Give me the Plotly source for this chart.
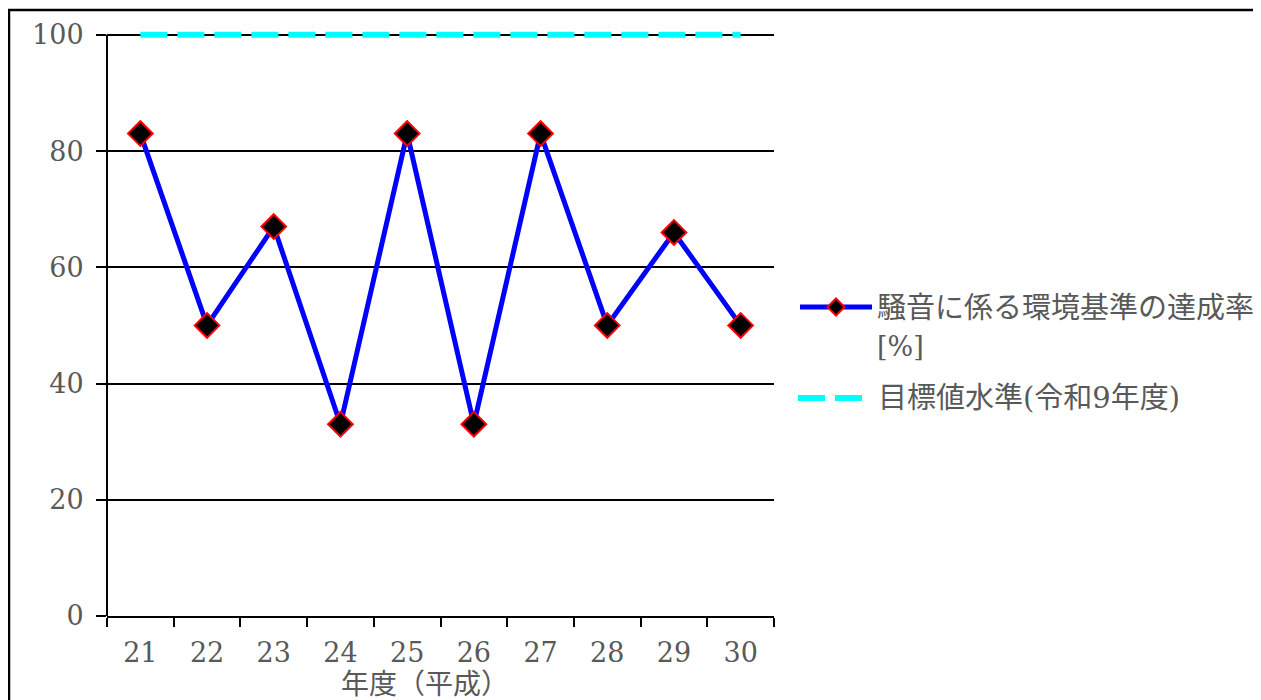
import plotly.graph_objects as go

years = ["21", "22", "23", "24", "25", "26", "27", "28", "29", "30"]
rate = [83, 50, 67, 33, 83, 33, 83, 50, 66, 50]
target = [100] * len(years)
y_ticks = [0, 20, 40, 60, 80, 100]
name_rate = "騒音に係る環境基準の達成率"
name_rate2 = "[%]"
name_target = "目標値水準(令和9年度)"
x_title = "年度（平成）"

# the page body adds an 8px margin; figure coordinates are page - 8
OFF = 8
W, H = 1261 - OFF, 700 - OFF
L, R, T, B = 107 - OFF, 774 - OFF, 29 - OFF, 616 - OFF
GREY = "#595959"
FONT = "DejaVu Serif, Noto Sans CJK JP, serif"


def px(x):
    # x given in page pixels
    return (x - OFF - L) / (R - L)


def py(y):
    # y given in page pixels
    return (B - (y - OFF)) / (B - T)


fig = go.Figure()
fig.add_trace(go.Scatter(
    x=years, y=target, mode="lines", showlegend=False,
    line=dict(color="#00FFFF", width=6, dash="27px,10px"),
))
fig.add_trace(go.Scatter(
    x=years, y=rate, mode="lines+markers", showlegend=False,
    line=dict(color="#0000FF", width=5),
    marker=dict(symbol="diamond", size=19, color="black",
                line=dict(color="#FF0000", width=2)),
))

shapes = [
    # y axis line
    dict(type="line", xref="paper", yref="y", x0=0, x1=0, y0=0, y1=100,
         line=dict(color="black", width=2)),
    # outer frame (top and left edges visible)
    dict(type="line", xref="paper", yref="paper", x0=px(8), x1=px(1300),
         y0=py(10), y1=py(10), line=dict(color="black", width=2.5)),
    dict(type="line", xref="paper", yref="paper", x0=px(9), x1=px(9),
         y0=py(9), y1=py(760), line=dict(color="black", width=2.5)),
    # legend symbols
    dict(type="line", xref="paper", yref="paper", x0=px(800), x1=px(872),
         y0=py(307), y1=py(307), line=dict(color="#0000FF", width=5)),
    dict(type="line", xref="paper", yref="paper", x0=px(798), x1=px(825),
         y0=py(398), y1=py(398), line=dict(color="#00FFFF", width=6)),
    dict(type="line", xref="paper", yref="paper", x0=px(835), x1=px(862),
         y0=py(398), y1=py(398), line=dict(color="#00FFFF", width=6)),
    dict(type="path", xref="paper", yref="paper",
         path="M {},{} L {},{} L {},{} L {},{} Z".format(
             px(836 - 8.5), py(307), px(836), py(307 - 8.5),
             px(836 + 8.5), py(307), px(836), py(307 + 8.5)),
         fillcolor="black", line=dict(color="#FF0000", width=2)),
]

annotations = [
    dict(text=name_rate, xref="paper", yref="paper", x=px(875), y=py(308),
         xanchor="left", yanchor="middle", showarrow=False,
         font=dict(size=29, color=GREY, family=FONT)),
    dict(text=name_rate2, xref="paper", yref="paper", x=px(875), y=py(346),
         xanchor="left", yanchor="middle", showarrow=False,
         font=dict(size=27, color=GREY, family=FONT)),
    dict(text=name_target, xref="paper", yref="paper", x=px(876), y=py(398),
         xanchor="left", yanchor="middle", showarrow=False,
         font=dict(size=29, color=GREY, family=FONT)),
    dict(text=x_title, xref="paper", yref="paper", x=px(425), y=py(684),
         xanchor="center", yanchor="middle", showarrow=False,
         font=dict(size=28, color=GREY, family=FONT)),
]

fig.update_layout(
    width=W, height=H,
    margin=dict(l=L, r=W - R, t=T, b=H - B, pad=0),
    paper_bgcolor="white", plot_bgcolor="white",
    font=dict(family=FONT, size=27, color=GREY),
    showlegend=False,
    shapes=shapes, annotations=annotations,
    xaxis=dict(
        type="category", range=[-0.5, 9.5], showgrid=False,
        showline=True, linecolor="black", linewidth=2,
        ticks="outside", tickson="boundaries", ticklen=9, tickwidth=2,
        tickcolor="black", tickfont=dict(size=27, color=GREY, family=FONT),
        ticklabelstandoff=12,
    ),
    yaxis=dict(
        range=[0, 101], tickvals=y_ticks, showline=False, zeroline=False,
        showgrid=True, gridcolor="black", gridwidth=1.5,
        ticks="outside", ticklen=10, tickwidth=2, tickcolor="black",
        tickfont=dict(size=27, color=GREY, family=FONT),
        ticklabelstandoff=7,
    ),
)

fig.write_html("out.html")
